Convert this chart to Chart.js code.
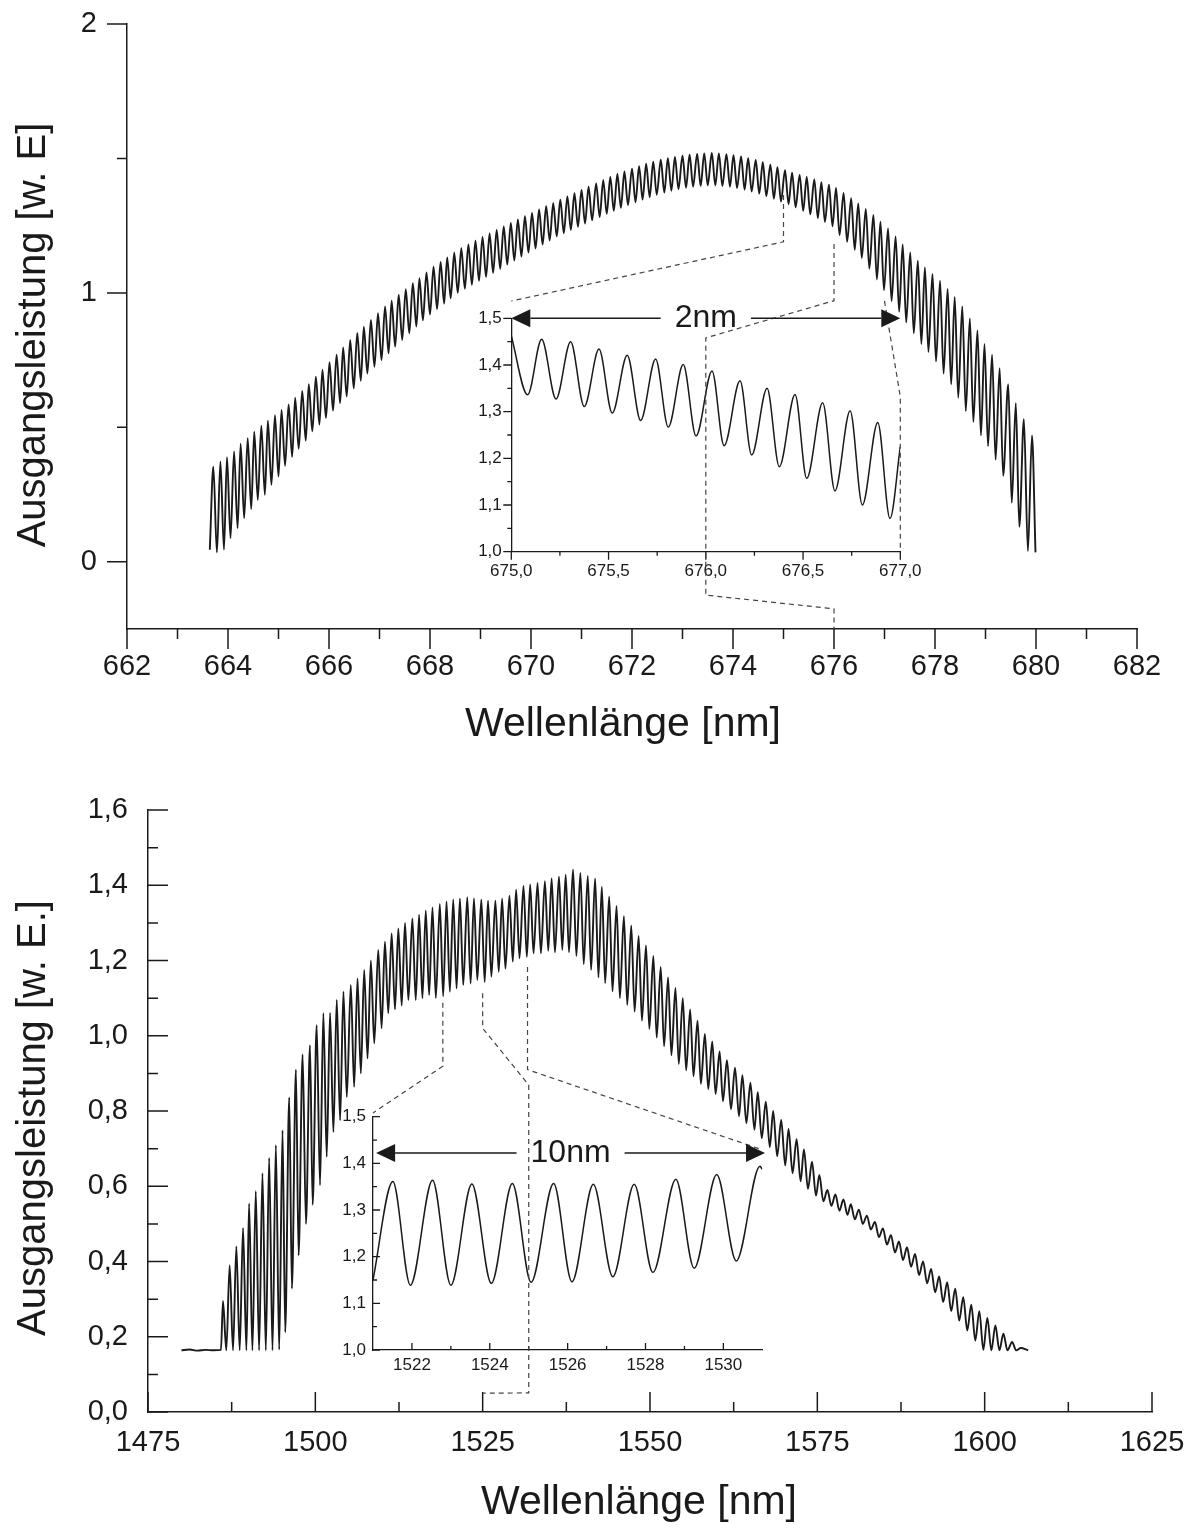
<!DOCTYPE html>
<html>
<head>
<meta charset="utf-8">
<script src="https://cdn.jsdelivr.net/npm/chart.js@4.4.1/dist/chart.umd.min.js"></script>
<style>
  html, body { margin: 0; padding: 0; background: #fff; }
  #page { position: relative; width: 1192px; height: 1532px; overflow: hidden; background: #fff; }
  #page canvas { position: absolute; }
  #overlay { pointer-events: none; }
</style>
</head>
<body>
<div id="page">
  <canvas id="topMain" style="left:0px;top:0px" width="1192" height="760"></canvas>
  <canvas id="topInset" style="left:430px;top:290px" width="500" height="300"></canvas>
  <canvas id="bottomMain" style="left:0px;top:770px" width="1192" height="762"></canvas>
  <canvas id="bottomInset" style="left:300px;top:1090px" width="500" height="300"></canvas>
  <canvas id="overlay" style="left:0px;top:0px" width="1192" height="1532"></canvas>
</div>
<script>
// ---- red laser spectrum (fringe turning points: dip / peak) ----
const topNm = [663.64,
  663.71, 663.78, 663.85, 663.92, 663.98, 664.05, 664.12, 664.19, 664.25, 664.32,
  664.39, 664.46, 664.52, 664.59, 664.66, 664.73, 664.79, 664.86, 664.93, 665.00,
  665.06, 665.13, 665.20, 665.27, 665.33, 665.40, 665.47, 665.54, 665.60, 665.67,
  665.74, 665.81, 665.87, 665.94, 666.01, 666.08, 666.15, 666.22, 666.28, 666.35,
  666.42, 666.49, 666.56, 666.63, 666.69, 666.76, 666.83, 666.90, 666.97, 667.04,
  667.11, 667.18, 667.24, 667.31, 667.38, 667.45, 667.52, 667.59, 667.66, 667.73,
  667.79, 667.86, 667.93, 668.00, 668.07, 668.14, 668.21, 668.28, 668.34, 668.41,
  668.48, 668.55, 668.62, 668.69, 668.76, 668.83, 668.90, 668.97, 669.04, 669.11,
  669.18, 669.25, 669.32, 669.39, 669.46, 669.53, 669.60, 669.67, 669.74, 669.81,
  669.88, 669.95, 670.02, 670.09, 670.16, 670.23, 670.30, 670.37, 670.44, 670.51,
  670.58, 670.65, 670.72, 670.79, 670.86, 670.93, 671.00, 671.07, 671.14, 671.21,
  671.29, 671.36, 671.43, 671.50, 671.57, 671.64, 671.71, 671.78, 671.85, 671.92,
  672.00, 672.07, 672.14, 672.21, 672.28, 672.35, 672.42, 672.49, 672.57, 672.64,
  672.71, 672.78, 672.85, 672.92, 673.00, 673.07, 673.14, 673.21, 673.29, 673.36,
  673.43, 673.50, 673.58, 673.65, 673.72, 673.79, 673.87, 673.94, 674.01, 674.08,
  674.16, 674.23, 674.30, 674.37, 674.45, 674.52, 674.59, 674.66, 674.74, 674.81,
  674.88, 674.95, 675.03, 675.10, 675.17, 675.24, 675.32, 675.39, 675.46, 675.53,
  675.61, 675.68, 675.75, 675.82, 675.90, 675.97, 676.04, 676.11, 676.19, 676.26,
  676.34, 676.41, 676.48, 676.55, 676.63, 676.70, 676.78, 676.85, 676.92, 676.99,
  677.07, 677.14, 677.22, 677.29, 677.36, 677.43, 677.51, 677.58, 677.66, 677.73,
  677.80, 677.87, 677.95, 678.02, 678.10, 678.17, 678.25, 678.32, 678.39, 678.46,
  678.54, 678.61, 678.69, 678.76, 678.84, 678.91, 678.98, 679.05, 679.13, 679.20,
  679.28, 679.35, 679.45, 679.52, 679.60, 679.67, 679.76, 679.84, 679.92, 679.99];
const topPower = [0.045,
  0.354, 0.035, 0.373, 0.045, 0.389, 0.088, 0.410, 0.125, 0.439, 0.162,
  0.460, 0.196, 0.484, 0.230, 0.506, 0.249, 0.525, 0.286, 0.545, 0.317,
  0.565, 0.357, 0.585, 0.390, 0.610, 0.420, 0.635, 0.450, 0.660, 0.485,
  0.688, 0.510, 0.714, 0.535, 0.742, 0.562, 0.770, 0.590, 0.797, 0.615,
  0.825, 0.645, 0.851, 0.673, 0.874, 0.700, 0.899, 0.725, 0.924, 0.750,
  0.950, 0.775, 0.971, 0.800, 0.993, 0.825, 1.014, 0.850, 1.036, 0.875,
  1.055, 0.898, 1.076, 0.920, 1.097, 0.940, 1.115, 0.960, 1.132, 0.980,
  1.149, 1.000, 1.166, 1.015, 1.180, 1.030, 1.194, 1.045, 1.208, 1.060,
  1.221, 1.075, 1.234, 1.090, 1.247, 1.105, 1.260, 1.120, 1.273, 1.135,
  1.285, 1.150, 1.297, 1.165, 1.310, 1.180, 1.322, 1.195, 1.334, 1.210,
  1.347, 1.222, 1.359, 1.234, 1.371, 1.246, 1.383, 1.258, 1.395, 1.270,
  1.407, 1.282, 1.419, 1.294, 1.431, 1.305, 1.442, 1.316, 1.452, 1.327,
  1.462, 1.337, 1.471, 1.347, 1.480, 1.356, 1.488, 1.365, 1.495, 1.373,
  1.501, 1.380, 1.506, 1.386, 1.510, 1.391, 1.514, 1.395, 1.517, 1.398,
  1.519, 1.400, 1.520, 1.400, 1.519, 1.398, 1.516, 1.395, 1.512, 1.390,
  1.507, 1.384, 1.501, 1.377, 1.494, 1.369, 1.486, 1.360, 1.477, 1.350,
  1.467, 1.340, 1.456, 1.330, 1.447, 1.318, 1.439, 1.305, 1.431, 1.292,
  1.422, 1.278, 1.412, 1.264, 1.402, 1.248, 1.390, 1.215, 1.372, 1.190,
  1.352, 1.160, 1.333, 1.130, 1.312, 1.090, 1.290, 1.050, 1.265, 1.010,
  1.240, 0.970, 1.210, 0.930, 1.180, 0.890, 1.150, 0.850, 1.120, 0.810,
  1.095, 0.780, 1.070, 0.745, 1.045, 0.700, 1.015, 0.660, 0.985, 0.610,
  0.950, 0.560, 0.905, 0.520, 0.860, 0.470, 0.810, 0.430, 0.770, 0.380,
  0.720, 0.320, 0.660, 0.220, 0.590, 0.130, 0.530, 0.040, 0.470, 0.035];

// zoomed section 675-677 nm
const topInsetNm = [675.000,
  675.084, 675.156, 675.230, 675.305, 675.375, 675.451, 675.519, 675.596, 675.665, 675.742,
  675.807, 675.884, 675.950, 676.032, 676.094, 676.176, 676.236, 676.315, 676.378, 676.459,
  676.519, 676.601, 676.664, 676.742, 676.805, 676.884, 676.947, 677.000];
const topInsetPower = [1.462,
  1.336, 1.455, 1.327, 1.450, 1.311, 1.434, 1.297, 1.421, 1.281, 1.413,
  1.267, 1.401, 1.248, 1.387, 1.227, 1.366, 1.207, 1.350, 1.182, 1.337,
  1.157, 1.319, 1.130, 1.302, 1.100, 1.277, 1.071, 1.225];

// ---- 1.5 µm spectrum ----
const bottomNm = [1480.0, 1481.2, 1482.4, 1483.6, 1484.8, 1485.9,
  1486.2, 1486.7, 1487.2, 1487.7, 1488.2, 1488.7, 1489.2, 1489.7, 1490.1, 1490.6,
  1491.1, 1491.6, 1492.1, 1492.6, 1493.1, 1493.6, 1494.1, 1494.6, 1495.1, 1495.5,
  1496.1, 1496.5, 1497.1, 1497.5, 1498.1, 1498.6, 1499.2, 1499.6, 1500.2, 1500.7,
  1501.2, 1501.7, 1502.2, 1502.7, 1503.2, 1503.7, 1504.2, 1504.7, 1505.3, 1505.8,
  1506.3, 1506.8, 1507.3, 1507.8, 1508.3, 1508.8, 1509.4, 1509.9, 1510.4, 1510.9,
  1511.4, 1511.9, 1512.4, 1512.9, 1513.4, 1513.9, 1514.5, 1515.0, 1515.5, 1516.0,
  1516.5, 1517.0, 1517.5, 1518.0, 1518.6, 1519.1, 1519.6, 1520.1, 1520.6, 1521.1,
  1521.6, 1522.1, 1522.7, 1523.2, 1523.7, 1524.2, 1524.8, 1525.3, 1525.8, 1526.3,
  1526.9, 1527.4, 1527.9, 1528.4, 1529.0, 1529.5, 1530.0, 1530.5, 1531.1, 1531.6,
  1532.1, 1532.6, 1533.2, 1533.7, 1534.3, 1534.8, 1535.3, 1535.8, 1536.4, 1536.9,
  1537.4, 1537.9, 1538.5, 1539.0, 1539.6, 1540.1, 1540.7, 1541.2, 1541.8, 1542.3,
  1542.8, 1543.3, 1543.9, 1544.4, 1545.0, 1545.5, 1546.1, 1546.6, 1547.2, 1547.7,
  1548.3, 1548.8, 1549.4, 1549.9, 1550.5, 1551.0, 1551.6, 1552.1, 1552.7, 1553.2,
  1553.8, 1554.3, 1554.9, 1555.4, 1556.0, 1556.5, 1557.1, 1557.6, 1558.2, 1558.7,
  1559.3, 1559.8, 1560.4, 1560.9, 1561.5, 1562.1, 1562.7, 1563.3, 1563.8, 1564.4,
  1565.0, 1565.6, 1566.1, 1566.7, 1567.3, 1567.9, 1568.4, 1569.0, 1569.6, 1570.2,
  1570.7, 1571.3, 1571.9, 1572.5, 1573.0, 1573.6, 1574.2, 1574.8, 1575.3, 1575.9,
  1576.5, 1577.1, 1577.7, 1578.3, 1578.9, 1579.5, 1580.0, 1580.6, 1581.2, 1581.8,
  1582.4, 1583.0, 1583.6, 1584.2, 1584.8, 1585.4, 1586.0, 1586.6, 1587.2, 1587.8,
  1588.4, 1589.0, 1589.6, 1590.2, 1590.8, 1591.4, 1592.0, 1592.6, 1593.2, 1593.8,
  1594.4, 1595.0, 1595.6, 1596.2, 1596.8, 1597.4, 1598.0, 1598.6, 1599.2, 1599.8,
  1600.4, 1601.0, 1601.6, 1602.2, 1602.8, 1603.4, 1604.1, 1604.7, 1605.4, 1606.5];
const bottomPower = [0.164, 0.166, 0.163, 0.165, 0.164, 0.165,
  0.295, 0.164, 0.390, 0.164, 0.440, 0.164, 0.489, 0.164, 0.554, 0.164,
  0.587, 0.164, 0.635, 0.164, 0.675, 0.164, 0.709, 0.166, 0.749, 0.212,
  0.836, 0.328, 0.910, 0.416, 0.950, 0.500, 0.975, 0.551, 1.028, 0.603,
  1.060, 0.678, 1.061, 0.744, 1.095, 0.775, 1.117, 0.837, 1.135, 0.864,
  1.152, 0.900, 1.175, 0.940, 1.200, 0.980, 1.228, 1.020, 1.250, 1.060,
  1.272, 1.070, 1.285, 1.080, 1.300, 1.095, 1.312, 1.095, 1.322, 1.100,
  1.333, 1.108, 1.341, 1.100, 1.350, 1.105, 1.357, 1.117, 1.362, 1.126,
  1.365, 1.135, 1.368, 1.139, 1.365, 1.148, 1.362, 1.143, 1.359, 1.157,
  1.359, 1.170, 1.364, 1.178, 1.372, 1.197, 1.388, 1.206, 1.398, 1.210,
  1.402, 1.219, 1.406, 1.219, 1.411, 1.226, 1.418, 1.222, 1.423, 1.228,
  1.428, 1.222, 1.442, 1.212, 1.433, 1.190, 1.425, 1.175, 1.418, 1.155,
  1.396, 1.140, 1.370, 1.118, 1.345, 1.100, 1.318, 1.082, 1.293, 1.064,
  1.265, 1.040, 1.240, 1.018, 1.212, 0.995, 1.183, 0.972, 1.155, 0.948,
  1.127, 0.925, 1.100, 0.908, 1.070, 0.892, 1.040, 0.872, 1.005, 0.858,
  0.985, 0.845, 0.958, 0.826, 0.935, 0.805, 0.915, 0.786, 0.895, 0.768,
  0.875, 0.750, 0.850, 0.728, 0.825, 0.704, 0.800, 0.680, 0.776, 0.655,
  0.752, 0.635, 0.725, 0.613, 0.698, 0.593, 0.665, 0.575, 0.630, 0.560,
  0.590, 0.548, 0.578, 0.535, 0.565, 0.524, 0.552, 0.512, 0.538, 0.500,
  0.522, 0.485, 0.505, 0.465, 0.488, 0.445, 0.470, 0.424, 0.453, 0.404,
  0.438, 0.386, 0.420, 0.364, 0.400, 0.342, 0.380, 0.318, 0.360, 0.292,
  0.345, 0.268, 0.328, 0.243, 0.305, 0.217, 0.285, 0.190, 0.268, 0.165,
  0.250, 0.164, 0.230, 0.164, 0.208, 0.164, 0.186, 0.164, 0.170, 0.164];

// zoomed section 1521-1531 nm
const bottomInsetNm = [1521.00,
  1521.51, 1521.96, 1522.53, 1523.00, 1523.54, 1524.04, 1524.58, 1525.06, 1525.64, 1526.11,
  1526.66, 1527.16, 1527.71, 1528.19, 1528.78, 1529.25, 1529.83, 1530.33, 1530.94, 1531.00];
const bottomInsetPower = [1.150,
  1.361, 1.139, 1.364, 1.139, 1.356, 1.143, 1.357, 1.145, 1.357, 1.146,
  1.355, 1.157, 1.355, 1.166, 1.366, 1.175, 1.376, 1.191, 1.394, 1.387];

// ---- axis ticks ----
const topXMajor = [662, 664, 666, 668, 670, 672, 674, 676, 678, 680, 682];
const topXMinor = [663, 665, 667, 669, 671, 673, 675, 677, 679, 681];
const topYMajor = [0, 1, 2];
const topYMinor = [0.5, 1.5];
const topInsetXMajor = [675.0, 675.5, 676.0, 676.5, 677.0];
const topInsetXMinor = [675.25, 675.75, 676.25, 676.75];
const insetYMajor = [1.0, 1.1, 1.2, 1.3, 1.4, 1.5];
const insetYMinor = [1.05, 1.15, 1.25, 1.35, 1.45];
const bottomXMajor = [1475, 1500, 1525, 1550, 1575, 1600, 1625];
const bottomXMinor = [1487.5, 1512.5, 1537.5, 1562.5, 1587.5, 1612.5];
const bottomYMajor = [0.0, 0.2, 0.4, 0.6, 0.8, 1.0, 1.2, 1.4, 1.6];
const bottomYMinor = [0.1, 0.3, 0.5, 0.7, 0.9, 1.1, 1.3, 1.5];
const bottomInsetXMajor = [1522, 1524, 1526, 1528, 1530];
const bottomInsetXMinor = [1523, 1525, 1527, 1529];

// dashed zoom guides: [chart ('m' main / 'i' inset), wavelength, power]
const topGuides = [
  [['m', 675, 1.364], ['m', 675, 1.19], ['i', 675.0, 1.537]],
  [['m', 676, 1.182], ['m', 676, 0.971], ['i', 676.0, 1.458], ['i', 676.0, 0.907], ['m', 676, -0.175], ['m', 676, -0.25]],
  [['m', 677, 0.97], ['i', 677.0, 1.332], ['i', 677.0, 1.0]]
];
const bottomGuides = [
  [['m', 1519.05, 1.0875], ['m', 1519.05, 0.919], ['i', 1521.0, 1.508]],
  [['m', 1525, 1.113], ['m', 1525, 1.02], ['i', 1525, 1.568], ['i', 1525, 0.908], ['m', 1525, 0.05]],
  [['m', 1531.7, 1.183], ['m', 1531.7, 0.91], ['i', 1531.0, 1.429]]
];
// span arrows inside the insets: [from, to, power, label]
const topSpan = [675.0, 677.0, 1.5, '2nm'];
const bottomSpan = [1521.08, 1531.07, 1.422, '10nm'];

const FONT = '"Liberation Sans", Arial, Helvetica, sans-serif';
const INK = '#1a1a1a';
Chart.defaults.font.family = FONT;
Chart.defaults.color = INK;

const comma = d => v => Number(v).toFixed(d).replace('.', ',');

// major/minor tick marks, drawn by hand so they can differ in length
function tickMarkPlugin(s) {
  return {
    id: 'tickMarks',
    afterDraw(chart) {
      const ctx = chart.ctx, a = chart.chartArea;
      const xs = chart.scales.x, ys = chart.scales.y;
      ctx.save();
      ctx.strokeStyle = INK;
      ctx.lineWidth = s.axisWidth;
      ctx.beginPath();
      const onX = (vals, len) => vals.forEach(v => {
        const p = xs.getPixelForValue(v);
        ctx.moveTo(p, a.bottom);
        ctx.lineTo(p, a.bottom + s.tickDir * len);
      });
      const onY = (vals, len) => vals.forEach(v => {
        const p = ys.getPixelForValue(v);
        ctx.moveTo(a.left, p);
        ctx.lineTo(a.left - s.tickDir * len, p);
      });
      onX(s.xMajor, s.tickLen[0]); onX(s.xMinor, s.tickLen[1]);
      onY(s.yMajor, s.tickLen[0]); onY(s.yMinor, s.tickLen[1]);
      ctx.stroke();
      ctx.restore();
    }
  };
}

// fixed axis box; label overhang must not move the plot area
function pinScale(sc, size) {
  if (sc.isHorizontal()) sc.height = size; else sc.width = size;
  sc.paddingTop = sc.paddingBottom = sc.paddingLeft = sc.paddingRight = 0;
}

function makeChart(id, s) {
  const canvas = document.getElementById(id);
  const points = s.nm.map((x, i) => ({ x: x, y: s.power[i] }));
  const axis = (range, ticks, label, pad, size) => ({
    type: 'linear',
    min: range[0],
    max: range[1],
    grid: { display: false, drawTicks: false },
    border: { display: true, color: INK, width: s.axisWidth },
    ticks: { autoSkip: false, maxRotation: 0, padding: pad, color: INK, font: { size: s.fontSize }, callback: label },
    afterBuildTicks: sc => { sc.ticks = ticks.map(v => ({ value: v })); },
    afterFit: sc => pinScale(sc, size)
  });
  return new Chart(canvas, {
    type: 'line',
    data: {
      datasets: [{
        data: points,
        borderColor: INK,
        borderWidth: s.lineWidth,
        pointRadius: 0,
        fill: false,
        cubicInterpolationMode: 'monotone'
      }]
    },
    options: {
      responsive: false,
      animation: false,
      events: [],
      parsing: false,
      layout: { padding: { left: 0, top: s.area.top, right: canvas.width - s.area.right, bottom: 0 } },
      plugins: { legend: { display: false }, tooltip: { enabled: false } },
      scales: {
        x: axis(s.xRange, s.xMajor, s.xLabel, s.xPad, canvas.height - s.area.bottom),
        y: axis(s.yRange, s.yMajor, s.yLabel, s.yPad, s.area.left)
      }
    },
    plugins: [tickMarkPlugin(s)]
  });
}

const topMain = makeChart('topMain', {
  nm: topNm, power: topPower, xRange: [662, 682], yRange: [-0.25, 2],
  area: { left: 127, top: 24, right: 1137, bottom: 629 },
  xMajor: topXMajor, xMinor: topXMinor, yMajor: topYMajor, yMinor: topYMinor,
  xLabel: comma(0), yLabel: comma(0), fontSize: 29, xPad: 21, yPad: 30,
  tickLen: [20, 10], tickDir: 1, lineWidth: 1.9, axisWidth: 1.5
});
const topInset = makeChart('topInset', {
  nm: topInsetNm, power: topInsetPower, xRange: [675, 677], yRange: [1.0, 1.5],
  area: { left: 81.3, top: 28.3, right: 470.3, bottom: 261.7 },
  xMajor: topInsetXMajor, xMinor: topInsetXMinor, yMajor: insetYMajor, yMinor: insetYMinor,
  xLabel: comma(1), yLabel: comma(1), fontSize: 17, xPad: 9, yPad: 9.5,
  tickLen: [8, 4], tickDir: 1, lineWidth: 1.5, axisWidth: 1.3
});
const bottomMain = makeChart('bottomMain', {
  nm: bottomNm, power: bottomPower, xRange: [1475, 1625], yRange: [0, 1.6],
  area: { left: 148, top: 40, right: 1152, bottom: 642 },
  xMajor: bottomXMajor, xMinor: bottomXMinor, yMajor: bottomYMajor, yMinor: bottomYMinor,
  xLabel: comma(0), yLabel: comma(1), fontSize: 29, xPad: 14, yPad: 20,
  tickLen: [20, 10], tickDir: -1, lineWidth: 1.9, axisWidth: 1.5
});
const bottomInset = makeChart('bottomInset', {
  nm: bottomInsetNm, power: bottomInsetPower, xRange: [1521, 1531], yRange: [1.0, 1.5],
  area: { left: 73, top: 26.7, right: 462.3, bottom: 260 },
  xMajor: bottomInsetXMajor, xMinor: bottomInsetXMinor, yMajor: insetYMajor, yMinor: insetYMinor,
  xLabel: comma(0), yLabel: comma(1), fontSize: 17, xPad: 5, yPad: 7,
  tickLen: [7, 4], tickDir: -1, lineWidth: 1.5, axisWidth: 1.3
});

// page position of a data point of one chart
function toPage(chart, x, y) {
  const c = chart.canvas;
  return [c.offsetLeft + chart.scales.x.getPixelForValue(x), c.offsetTop + chart.scales.y.getPixelForValue(y)];
}

function drawGuides(ctx, guides, main, inset) {
  ctx.save();
  ctx.strokeStyle = '#444';
  ctx.lineWidth = 1.2;
  ctx.setLineDash([5, 4]);
  guides.forEach(path => {
    ctx.beginPath();
    path.forEach(([which, x, y], i) => {
      const [px, py] = toPage(which === 'm' ? main : inset, x, y);
      if (i === 0) ctx.moveTo(px, py); else ctx.lineTo(px, py);
    });
    ctx.stroke();
  });
  ctx.restore();
}

function drawSpan(ctx, inset, span) {
  const [x0, x1, y, label] = span;
  const [ax, ay] = toPage(inset, x0, y);
  const [bx] = toPage(inset, x1, y);
  ctx.save();
  ctx.font = '32px ' + FONT;
  ctx.fillStyle = INK;
  ctx.strokeStyle = INK;
  ctx.lineWidth = 1.5;
  const mid = (ax + bx) / 2;
  const half = ctx.measureText(label).width / 2 + 14;
  const head = 19, hw = 9;
  ctx.beginPath();
  ctx.moveTo(ax + head, ay); ctx.lineTo(mid - half, ay);
  ctx.moveTo(mid + half, ay); ctx.lineTo(bx - head, ay);
  ctx.stroke();
  ctx.beginPath();
  ctx.moveTo(ax, ay); ctx.lineTo(ax + head, ay - hw); ctx.lineTo(ax + head, ay + hw); ctx.closePath();
  ctx.moveTo(bx, ay); ctx.lineTo(bx - head, ay - hw); ctx.lineTo(bx - head, ay + hw); ctx.closePath();
  ctx.fill();
  ctx.textAlign = 'center';
  ctx.textBaseline = 'alphabetic';
  ctx.fillText(label, mid, ay + 9);
  ctx.restore();
}

function drawTitles(ctx) {
  ctx.save();
  ctx.fillStyle = INK;
  ctx.textAlign = 'center';
  ctx.textBaseline = 'alphabetic';
  ctx.font = '41px ' + FONT;
  ctx.fillText('Wellenlänge [nm]', 623, 736);
  ctx.fillText('Wellenlänge [nm]', 639, 1514);
  ctx.font = '40px ' + FONT;
  [[335, 'Ausgangsleistung [w. E]'], [1118, 'Ausgangsleistung [w. E.]']].forEach(([cy, text]) => {
    ctx.save();
    ctx.translate(45, cy);
    ctx.rotate(-Math.PI / 2);
    ctx.fillText(text, 0, 0);
    ctx.restore();
  });
  ctx.restore();
}

const overlay = document.getElementById('overlay').getContext('2d');
drawGuides(overlay, topGuides, topMain, topInset);
drawGuides(overlay, bottomGuides, bottomMain, bottomInset);
drawSpan(overlay, topInset, topSpan);
drawSpan(overlay, bottomInset, bottomSpan);
drawTitles(overlay);
</script>
</body>
</html>
